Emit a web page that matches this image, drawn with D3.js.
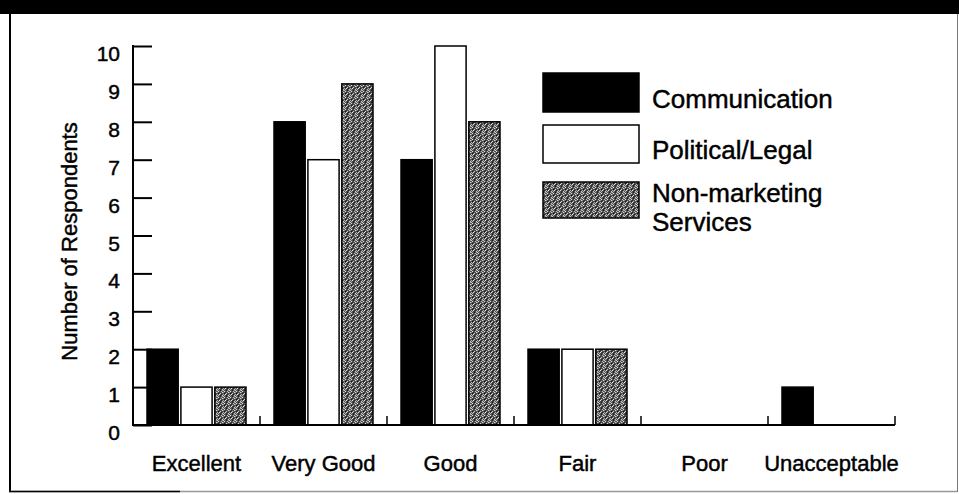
<!DOCTYPE html>
<html>
<head>
<meta charset="utf-8">
<script src="https://cdn.jsdelivr.net/npm/d3@7"></script>
<style>
  html, body { margin: 0; padding: 0; background: #fff; }
  svg { display: block; }
  text { font-family: "Liberation Sans", Arial, Helvetica, sans-serif; fill: #000; stroke: #000; stroke-width: 0.45px; }
</style>
</head>
<body>
<svg id="chart" width="959" height="494"></svg>
<script>
// ---- data ----
const categories = ["Excellent", "Very Good", "Good", "Fair", "Poor", "Unacceptable"];
const seriesNames = ["Communication", "Political/Legal", "Non-marketing Services"];
const communication = [2, 8, 7, 2, 0, 1];
const politicalLegal = [1, 7, 10, 2, 0, 0];
const nonMarketing = [1, 9, 8, 2, 0, 0];
const yTicks = [0, 1, 2, 3, 4, 5, 6, 7, 8, 9, 10];
const yLabel = "Number of Respondents";
const legendLines = [["Communication"], ["Political/Legal"], ["Non-marketing", "Services"]];

const seriesValues = [communication, politicalLegal, nonMarketing];
const rows = categories.map((c, i) => ({
  cat: c,
  vals: seriesNames.map((s, j) => ({ series: s, j: j, v: seriesValues[j][i] }))
}));

const svg = d3.select("#chart");
const W = 959, H = 494;

// pattern for stippled gray
const defs = svg.append("defs");
const pat = defs.append("pattern").attr("id", "stipple")
  .attr("patternUnits", "userSpaceOnUse").attr("width", 6).attr("height", 6);
pat.append("rect").attr("width", 6).attr("height", 6).attr("fill", "#505050");
const speck = [
  [0,0,"#c8c8c8"],[3,0,"#1e1e1e"],[5,0,"#9a9a9a"],
  [1,1,"#e0e0e0"],[4,1,"#bbbbbb"],
  [2,2,"#2a2a2a"],[5,2,"#d6d6d6"],[0,2,"#8c8c8c"],
  [1,3,"#111"],[3,3,"#cfcfcf"],
  [0,4,"#a8a8a8"],[4,4,"#222"],[2,4,"#e8e8e8"],
  [1,5,"#b4b4b4"],[3,5,"#2e2e2e"],[5,5,"#c4c4c4"]
];
speck.forEach(([x, y, c]) => pat.append("rect").attr("x", x).attr("y", y).attr("width", 1).attr("height", 1).attr("fill", c));

const fills = ["#000", "#fff", "url(#stipple)"];

// frame
svg.append("rect").attr("x", 0).attr("y", 0).attr("width", W).attr("height", 14).attr("fill", "#000");
svg.append("line").attr("x1", 10).attr("x2", 10).attr("y1", 14).attr("y2", 492).attr("stroke", "#000").attr("stroke-width", 2);
svg.append("line").attr("x1", 9).attr("x2", 957).attr("y1", 491.5).attr("y2", 491.5).attr("stroke", "#999").attr("stroke-width", 1.5);
svg.append("line").attr("x1", 9).attr("x2", 180).attr("y1", 491.5).attr("y2", 491.5).attr("stroke", "#000").attr("stroke-width", 1.5);
svg.append("line").attr("x1", 957.5).attr("x2", 957.5).attr("y1", 14).attr("y2", 492).attr("stroke", "#777").attr("stroke-width", 1);

// scales
const y = d3.scaleLinear().domain([0, 10]).range([425, 46]);
const x0 = d3.scaleBand().domain(categories).range([133, 895]);
const x1 = d3.scaleBand().domain(seriesNames).range([14, 113]).paddingInner(0.08);

// y axis (ticks point inward)
const yAxis = d3.axisRight(y).tickValues(yTicks).tickSize(19).tickFormat("");
const gy = svg.append("g").attr("transform", "translate(133,0)").call(yAxis);
gy.select(".domain").remove();
gy.selectAll(".tick line").attr("stroke", "#000").attr("stroke-width", 2);
svg.append("line").attr("x1", 133).attr("x2", 133).attr("y1", y(10) - 1).attr("y2", y(0) + 1)
  .attr("stroke", "#000").attr("stroke-width", 2);

// y tick labels
svg.append("g").selectAll("text").data(yTicks).join("text")
  .attr("x", 120).attr("y", d => y(d) + 15)
  .attr("text-anchor", "end").attr("font-size", 21).text(d => d);

// y label
svg.append("text")
  .attr("transform", `translate(77,${(y(0) + y(10)) / 2 + 6}) rotate(-90)`)
  .attr("text-anchor", "middle").attr("font-size", 22).text(yLabel);

// bars
const groups = svg.append("g").selectAll("g").data(rows).join("g")
  .attr("transform", d => `translate(${x0(d.cat)},0)`);
groups.selectAll("rect").data(d => d.vals).join("rect")
  .attr("x", d => x1(d.series))
  .attr("y", d => y(d.v))
  .attr("width", x1.bandwidth())
  .attr("height", d => y(0) - y(d.v))
  .attr("fill", d => fills[d.j])
  .attr("stroke", "#000")
  .attr("stroke-width", 1.5);

// x axis
svg.append("line").attr("x1", 133).attr("x2", 895).attr("y1", y(0)).attr("y2", y(0))
  .attr("stroke", "#000").attr("stroke-width", 2);
const boundaries = categories.slice(1).map(c => x0(c)).concat([x0.range()[1]]);
svg.append("g").selectAll("line").data(boundaries).join("line")
  .attr("x1", d => d).attr("x2", d => d)
  .attr("y1", y(0)).attr("y2", y(0) - 9)
  .attr("stroke", "#000").attr("stroke-width", 1.5);

// x labels
svg.append("g").selectAll("text").data(categories).join("text")
  .attr("x", d => x0(d) + x0.bandwidth() / 2)
  .attr("y", 471)
  .attr("text-anchor", "middle").attr("font-size", 22).text(d => d);

// legend
const legendBoxes = [{ y: 73, h: 39 }, { y: 125, h: 38 }, { y: 182, h: 36 }];
const legendBaselines = [[108], [159], [202, 231]];
const lg = svg.append("g");
seriesNames.forEach((s, j) => {
  lg.append("rect").attr("x", 543).attr("y", legendBoxes[j].y)
    .attr("width", 96).attr("height", legendBoxes[j].h)
    .attr("fill", fills[j]).attr("stroke", "#000").attr("stroke-width", 1.5);
  legendLines[j].forEach((ln, k) => {
    lg.append("text").attr("x", 652).attr("y", legendBaselines[j][k])
      .attr("font-size", 26).text(ln);
  });
});
</script>
</body>
</html>
